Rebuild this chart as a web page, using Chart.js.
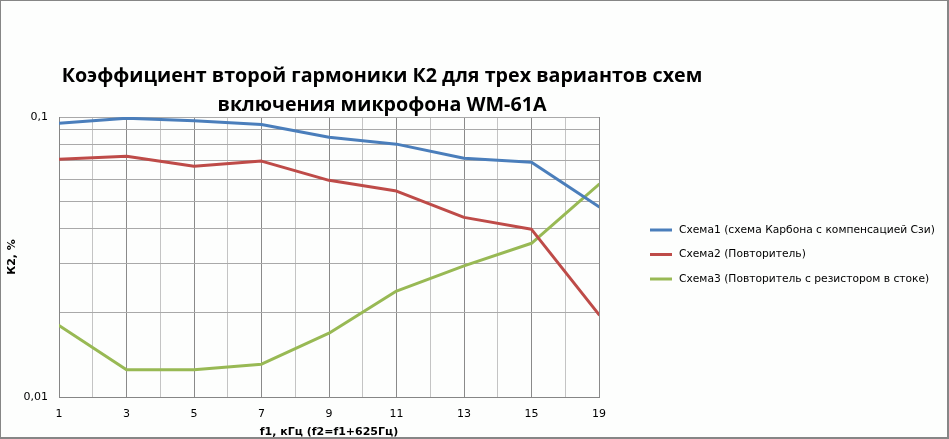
<!DOCTYPE html>
<html>
<head>
<meta charset="utf-8">
<script src="https://cdn.jsdelivr.net/npm/chart.js@4"></script>
<style>
  body { margin: 0; background: #fff; }
  #wrap { width: 949px; height: 439px; }
</style>
</head>
<body>
<div id="wrap"><canvas id="k2-chart" width="949" height="439"></canvas></div>
<script>
var categories = ["1", "3", "5", "7", "9", "11", "13", "15", "19"];
var schema1 = [0.095, 0.099, 0.097, 0.094, 0.0846, 0.080, 0.0712, 0.0689, 0.0478];
var schema2 = [0.0706, 0.0724, 0.0667, 0.0696, 0.0594, 0.0544, 0.0438, 0.0397, 0.0197];
var schema3 = [0.0180, 0.0125, 0.0125, 0.0131, 0.0169, 0.0239, 0.0294, 0.0354, 0.0575];
var seriesNames = [
    "Схема1 (схема Карбона с компенсацией Сзи)",
    "Схема2 (Повторитель)",
    "Схема3 (Повторитель с резистором в стоке)"
];
var yGridValues = [0.01, 0.02, 0.03, 0.04, 0.05, 0.06, 0.07, 0.08, 0.09, 0.1];
var yTickLabels = { "0.01": "0,01", "0.1": "0,1" };

function points(arr) {
    return arr.map(function (v, i) { return { x: i, y: v }; });
}

var labelFont = "'DejaVu Sans', sans-serif";

// frame, title and legend drawn around the chart area
var decor = {
    id: 'decor',
    beforeDraw: function (chart) {
        var ctx = chart.ctx;
        ctx.save();
        ctx.fillStyle = '#868686';
        ctx.fillRect(0, 0, chart.width, chart.height);
        ctx.fillStyle = '#fdfefd';
        ctx.fillRect(1, 1, chart.width - 3, chart.height - 3);
        ctx.restore();
    },
    afterDraw: function (chart) {
        var ctx = chart.ctx;
        ctx.save();
        ctx.fillStyle = '#000';
        ctx.textAlign = 'center';
        ctx.textBaseline = 'middle';
        ctx.font = "bold 19.7px 'Open Sans', sans-serif";
        ctx.fillText("Коэффициент второй гармоники К2 для трех вариантов схем", 382, 76);
        ctx.fillText("включения микрофона WM-61A", 382, 105);

        ctx.textAlign = 'left';
        ctx.font = "10.7px " + labelFont;
        chart.data.datasets.forEach(function (ds, i) {
            var y = 230 + i * 24.5;
            ctx.strokeStyle = ds.borderColor;
            ctx.lineWidth = 3;
            ctx.beginPath();
            ctx.moveTo(650, y);
            ctx.lineTo(672, y);
            ctx.stroke();
            ctx.fillStyle = '#000';
            ctx.fillText(ds.label, 679, y);
        });
        ctx.restore();
    }
};

new Chart(document.getElementById("k2-chart"), {
    type: 'line',
    data: {
        datasets: [
            { label: seriesNames[0], data: points(schema1), borderColor: '#4a7ebb' },
            { label: seriesNames[1], data: points(schema2), borderColor: '#be4b48' },
            { label: seriesNames[2], data: points(schema3), borderColor: '#98b954' }
        ]
    },
    options: {
        responsive: false,
        animation: false,
        layout: { padding: { left: 0, top: 117, right: 350, bottom: 0 } },
        elements: {
            line: { borderWidth: 3, tension: 0, borderJoinStyle: 'round', borderCapStyle: 'round' },
            point: { radius: 0 }
        },
        plugins: {
            legend: { display: false },
            title: { display: false },
            tooltip: { enabled: false }
        },
        scales: {
            x: {
                type: 'linear',
                min: 0,
                max: categories.length - 1,
                afterFit: function (s) { s.height = 42; },
                border: { color: '#868686', width: 1 },
                grid: {
                    drawTicks: false,
                    color: function (c) {
                        return Number.isInteger(c.tick.value) ? '#8a8a8a' : '#c4c4c4';
                    }
                },
                ticks: {
                    stepSize: 0.5,
                    autoSkip: false,
                    maxRotation: 0,
                    padding: 11,
                    color: '#000',
                    font: { family: labelFont, size: 11 },
                    callback: function (v) {
                        return Number.isInteger(v) ? categories[v] : '';
                    }
                },
                title: {
                    display: true,
                    text: 'f1, кГц (f2=f1+625Гц)',
                    color: '#000',
                    font: { family: labelFont, size: 11, weight: 'bold' },
                    padding: { top: 0, bottom: 0 }
                }
            },
            y: {
                type: 'logarithmic',
                min: 0.01,
                max: 0.1,
                afterFit: function (s) { s.width = 59; },
                afterBuildTicks: function (s) {
                    s.ticks = yGridValues.map(function (v) { return { value: v }; });
                },
                border: { color: '#868686', width: 1 },
                grid: { drawTicks: false, color: '#a9a9a9' },
                ticks: {
                    autoSkip: false,
                    padding: 11,
                    color: '#000',
                    font: { family: labelFont, size: 11 },
                    callback: function (v) {
                        var key = String(Math.round(v * 1000) / 1000);
                        return yTickLabels[key] || '';
                    }
                },
                title: {
                    display: true,
                    text: 'К2, %',
                    color: '#000',
                    font: { family: labelFont, size: 11, weight: 'bold' },
                    padding: { top: 6, bottom: 0 }
                }
            }
        }
    },
    plugins: [decor]
});
</script>
</body>
</html>
